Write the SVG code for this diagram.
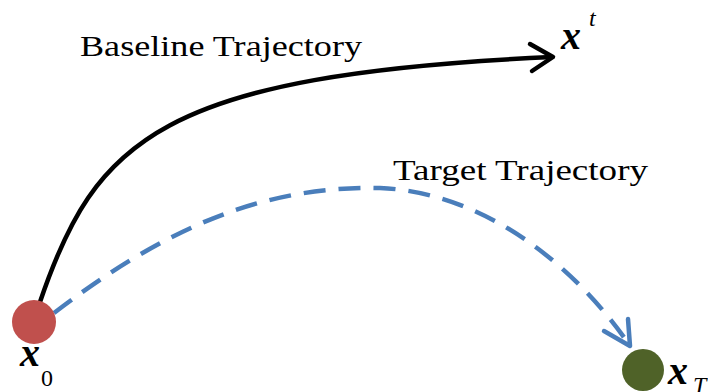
<svg xmlns="http://www.w3.org/2000/svg" width="708" height="392" viewBox="0 0 708 392">
<style>
text{font-family:'Liberation Serif','Times New Roman',Times,serif;fill:#000}
.lbl{font-size:29px}
.var{font-style:italic;font-weight:bold;font-size:40px}
.sub{font-size:24px}
.subi{font-style:italic;font-size:24px}
</style>
<g id="connectors">
<path d="M40 302 C 95 140, 160 75, 552 57" fill="none" stroke="#000" stroke-width="4.5"/>
<path d="M530 44 L553 57 L532 71" fill="none" stroke="#000" stroke-width="4.5" stroke-linecap="round" stroke-linejoin="round"/>
<path d="M54 313 C 150 240, 250 185, 380 188 C 480 192, 570 260, 628 343" fill="none" stroke="#4a7ebb" stroke-width="4.5" stroke-dasharray="22 13"/>
<path d="M604 331 L630 346 L628 319" fill="none" stroke="#4a7ebb" stroke-width="4.5" stroke-linecap="round" stroke-linejoin="round"/>
</g>
<g id="label-baseline"><text class="lbl" font-family="Liberation Serif, serif" x="80" y="56" textLength="282" lengthAdjust="spacingAndGlyphs">Baseline Trajectory</text></g>
<g id="label-target"><text class="lbl" font-family="Liberation Serif, serif" x="393" y="180" textLength="255" lengthAdjust="spacingAndGlyphs">Target Trajectory</text></g>
<g id="node-xt"><text class="var" font-family="Liberation Serif, serif" x="561" y="49">x</text><text class="subi" font-family="Liberation Serif, serif" x="589" y="26" font-size="19">t</text></g>
<g id="node-x0"><circle cx="34" cy="322" r="22" fill="#c0504d"/><text class="var" font-family="Liberation Serif, serif" x="20" y="366">x</text><text class="sub" font-family="Liberation Serif, serif" x="41" y="386">0</text></g>
<g id="node-xT"><circle cx="643" cy="370" r="21" fill="#4f6228"/><text class="var" font-family="Liberation Serif, serif" x="668" y="384">x</text><text class="subi" font-family="Liberation Serif, serif" x="693" y="393">T</text></g>
</svg>
